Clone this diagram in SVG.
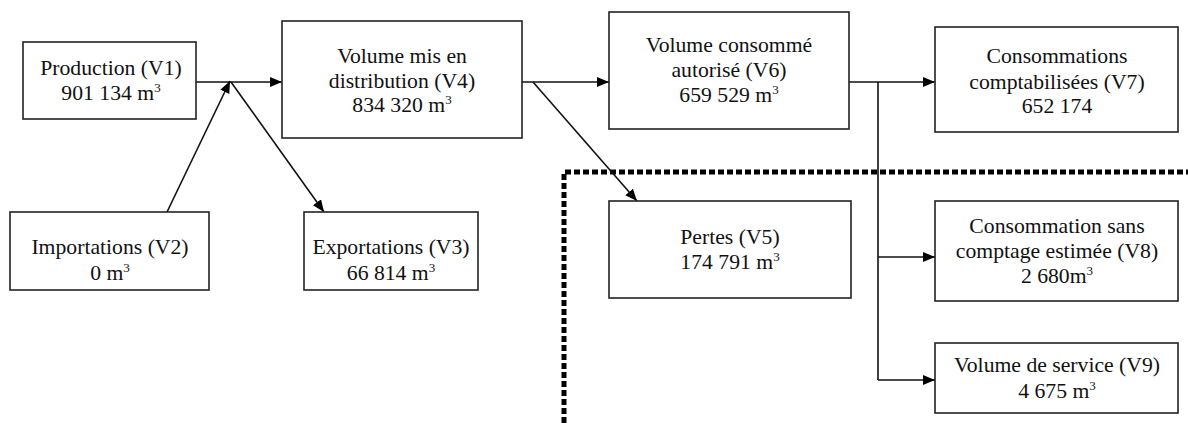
<svg xmlns="http://www.w3.org/2000/svg" width="1188" height="423" viewBox="0 0 1188 423">
<style>
  .box { fill: #fff; stroke: #222; stroke-width: 1.6; }
  .t { font-family: 'Liberation Serif', 'DejaVu Serif', serif; font-size: 21.7px; fill: #111; text-anchor: middle; }
  .sup { font-size: 13px; }
  .conn { stroke: #111; stroke-width: 1.6; fill: none; }
  .dots { stroke: #000; stroke-width: 5; fill: none; stroke-dasharray: 6 3; }
</style>
<defs>
  <marker id="arr" markerUnits="userSpaceOnUse" markerWidth="13" markerHeight="11" refX="12" refY="5" orient="auto">
    <path d="M0,0 L12,5 L0,10 z" fill="#000"/>
  </marker>
</defs>
<rect width="1188" height="423" fill="#fff"/>

<path class="dots" d="M564,423 V172 H1188"/>

<g id="connectors">
  <line class="conn" x1="196" y1="82" x2="282" y2="82" marker-end="url(#arr)"/>
  <line class="conn" x1="167" y1="212" x2="230" y2="81" marker-end="url(#arr)"/>
  <line class="conn" x1="231" y1="82" x2="324" y2="212" marker-end="url(#arr)"/>
  <line class="conn" x1="522" y1="82" x2="609" y2="82" marker-end="url(#arr)"/>
  <line class="conn" x1="533" y1="82" x2="637" y2="201" marker-end="url(#arr)"/>
  <line class="conn" x1="849" y1="82" x2="935" y2="82" marker-end="url(#arr)"/>
  <line class="conn" x1="878" y1="82" x2="878" y2="380"/>
  <line class="conn" x1="878" y1="257" x2="935" y2="257" marker-end="url(#arr)"/>
  <line class="conn" x1="878" y1="380" x2="935" y2="380" marker-end="url(#arr)"/>
</g>

<g id="V1">
  <rect class="box" x="23" y="42" width="173" height="77"/>
  <text class="t" x="111" y="75">Production (V1)</text>
  <text class="t" x="111" y="100">901 134 m<tspan class="sup" dy="-8">3</tspan></text>
</g>
<g id="V2">
  <rect class="box" x="10" y="212" width="199" height="78"/>
  <text class="t" x="110" y="254">Importations (V2)</text>
  <text class="t" x="110" y="280">0 m<tspan class="sup" dy="-8">3</tspan></text>
</g>
<g id="V3">
  <rect class="box" x="304" y="212" width="174" height="78"/>
  <text class="t" x="391" y="254">Exportations (V3)</text>
  <text class="t" x="391" y="280">66 814 m<tspan class="sup" dy="-8">3</tspan></text>
</g>
<g id="V4">
  <rect class="box" x="282" y="21" width="240" height="117"/>
  <text class="t" x="402" y="63">Volume mis en</text>
  <text class="t" x="402" y="88">distribution (V4)</text>
  <text class="t" x="402" y="112">834 320 m<tspan class="sup" dy="-8">3</tspan></text>
</g>
<g id="V6">
  <rect class="box" x="609" y="12" width="240" height="117"/>
  <text class="t" x="729" y="52">Volume consommé</text>
  <text class="t" x="729" y="77">autorisé (V6)</text>
  <text class="t" x="729" y="102">659 529 m<tspan class="sup" dy="-8">3</tspan></text>
</g>
<g id="V5">
  <rect class="box" x="609" y="201" width="242" height="97"/>
  <text class="t" x="730" y="244">Pertes (V5)</text>
  <text class="t" x="730" y="269">174 791 m<tspan class="sup" dy="-8">3</tspan></text>
</g>
<g id="V7">
  <rect class="box" x="935" y="27" width="243" height="105"/>
  <text class="t" x="1057" y="63">Consommations</text>
  <text class="t" x="1057" y="89">comptabilisées (V7)</text>
  <text class="t" x="1057" y="113">652 174</text>
</g>
<g id="V8">
  <rect class="box" x="935" y="201" width="243" height="100"/>
  <text class="t" x="1057" y="233">Consommation sans</text>
  <text class="t" x="1057" y="258">comptage estimée (V8)</text>
  <text class="t" x="1057" y="283">2 680m<tspan class="sup" dy="-8">3</tspan></text>
</g>
<g id="V9">
  <rect class="box" x="935" y="343" width="243" height="70"/>
  <text class="t" x="1057" y="372">Volume de service (V9)</text>
  <text class="t" x="1057" y="398">4 675 m<tspan class="sup" dy="-8">3</tspan></text>
</g>
</svg>
